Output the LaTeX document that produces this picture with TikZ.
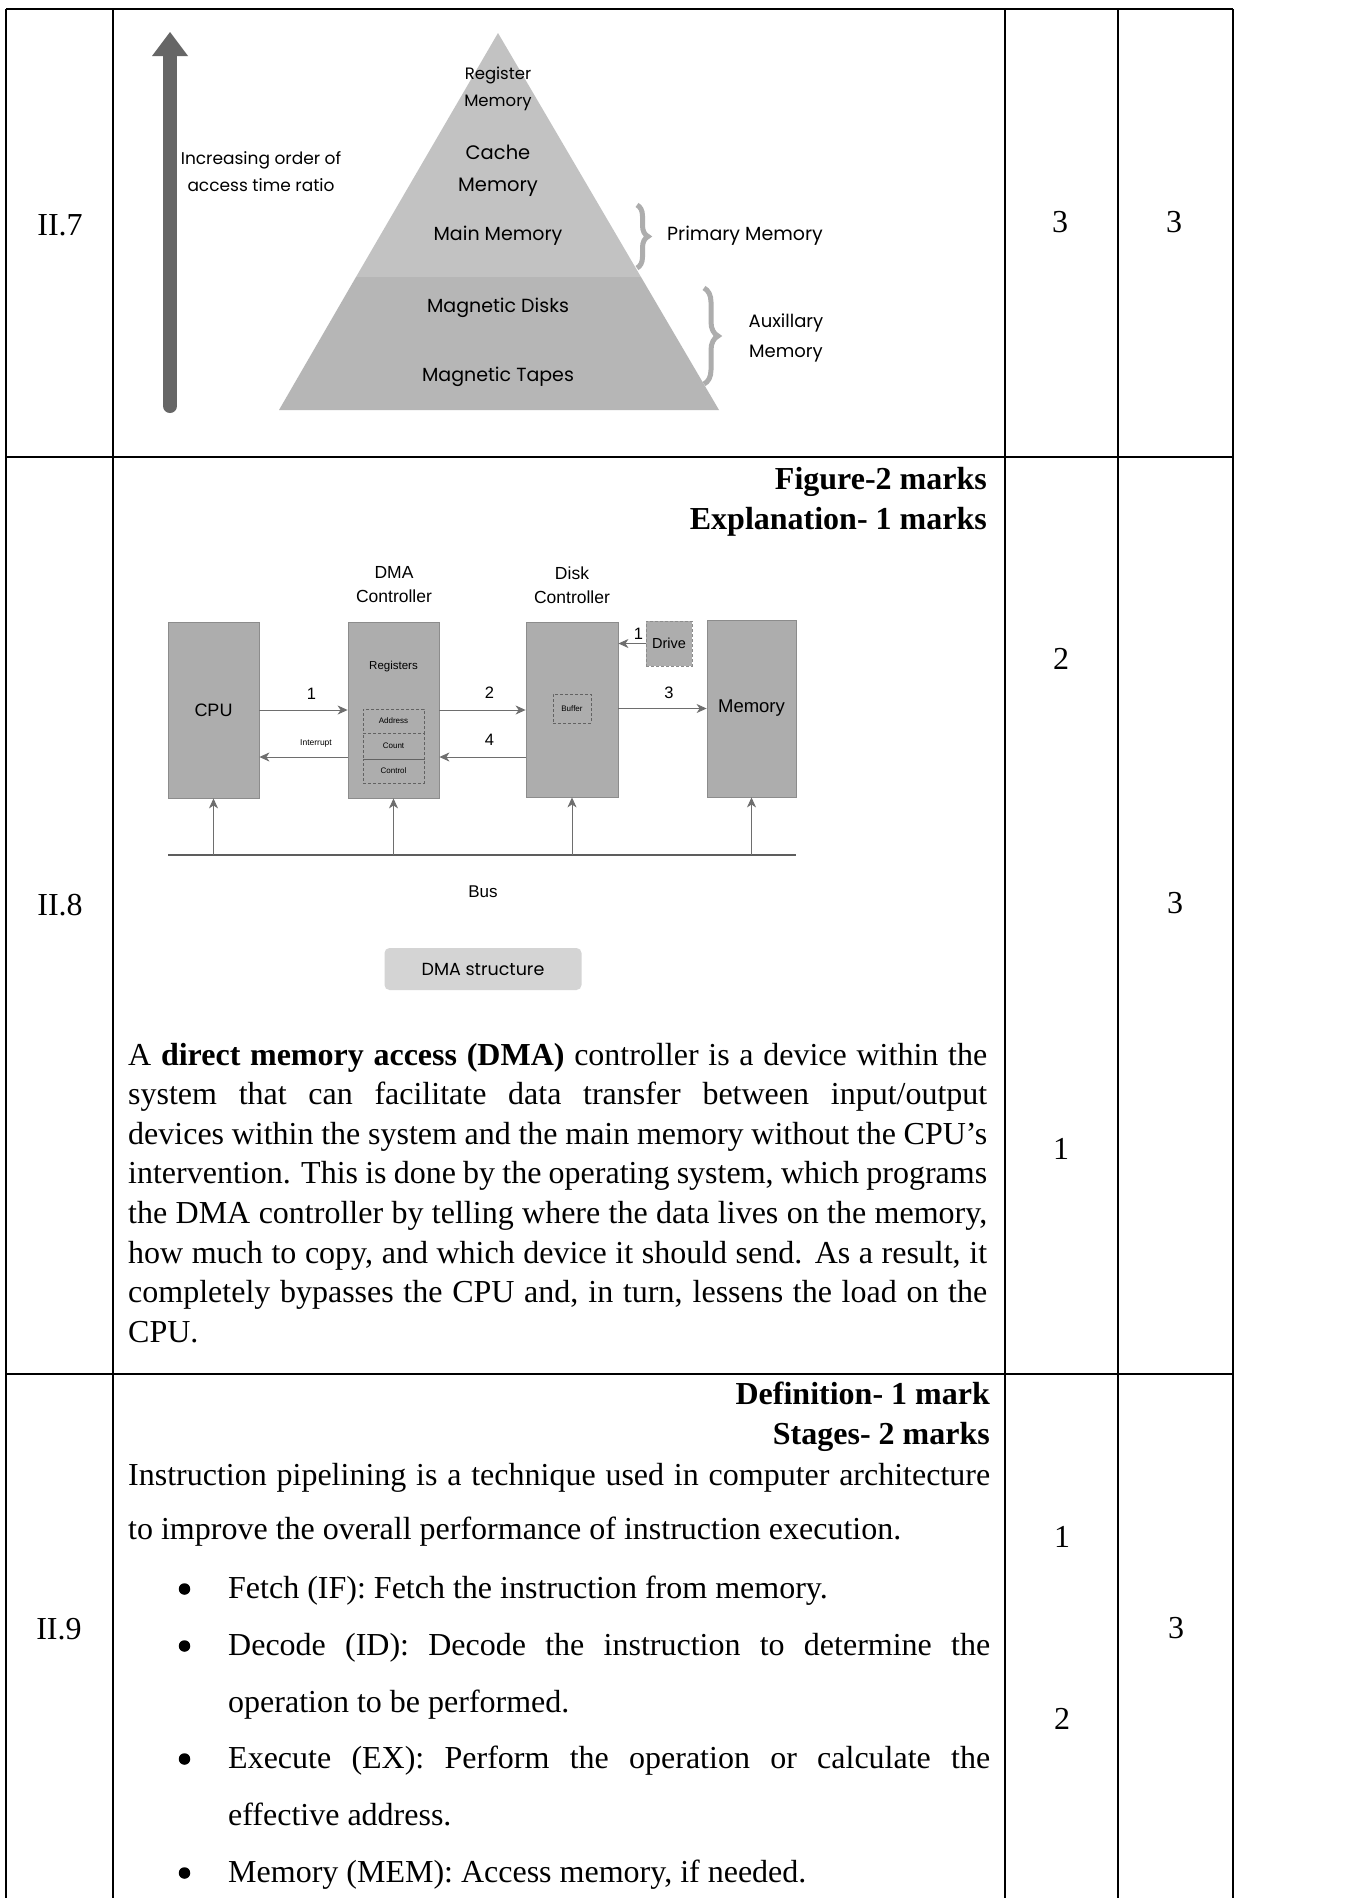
\documentclass[tikz,border=0pt]{standalone}
\usepackage{fontspec}
\setmainfont{Liberation Serif}
\newfontfamily\arialf{Liberation Sans}
\newfontfamily\geof{Poppins}
\usetikzlibrary{arrows.meta,decorations.pathreplacing,calc}
\definecolor{pyrtop}{HTML}{C2C2C2}
\definecolor{pyrbot}{HTML}{B6B6B6}
\definecolor{arrdark}{HTML}{666666}
\definecolor{bracegray}{HTML}{ADADAD}
\definecolor{boxgray}{HTML}{ADADAD}
\definecolor{boxedge}{HTML}{8C8C8C}
\definecolor{linegray}{HTML}{6E6E6E}
\definecolor{capgray}{HTML}{D4D4D4}
\tikzset{
 tbl/.style={line width=1.6pt, draw=black},
 tnum/.style={font=\fontsize{32}{38}\selectfont, inner sep=0pt},
 bodyl/.style={font=\fontsize{32}{38}\selectfont, inner sep=0pt, anchor=base west},
 bullt/.style={circle, fill=black, minimum size=11.5pt, inner sep=0pt},
 bhead/.style={font=\bfseries\fontsize{32}{38}\selectfont, inner sep=0pt, anchor=base east},
 pyr/.style={font=\geof\fontsize{19}{23}\selectfont, inner sep=0pt, align=center},
 dbox/.style={draw=boxedge, fill=boxgray, line width=0.8pt, inner sep=0pt},
 dlab/.style={font=\arialf\fontsize{17.5}{24}\selectfont, inner sep=0pt, align=center},
 rbox/.style={draw=boxedge!70!black, line width=0.7pt, densely dashed, inner sep=0pt, minimum width=61pt, font=\arialf\fontsize{8}{9}\selectfont},
 digit/.style={font=\arialf\fontsize{16.5}{18}\selectfont, inner sep=0pt},
 arr/.style={draw=linegray, line width=1pt, -{Stealth[length=10pt,width=9pt,inset=3pt]}},
 brc/.style={draw=bracegray, line width=5pt, decorate},
}
\begin{document}
\begin{tikzpicture}[x=1pt,y=-1pt]
\useasboundingbox (0,0) rectangle (1360,1898);
\fill[white] (0,0) rectangle (1360,1898);

% ---------- table rules ----------
\draw[tbl] (6,9) -- (1233,9);
\draw[tbl] (6,457) -- (1233,457);
\draw[tbl] (6,1374) -- (1233,1374);
\foreach \xx in {6,113,1005,1118,1233} { \draw[tbl] (\xx,9) -- (\xx,1898); }

% ---------- II.7 ----------
\node[tnum] (r7) at (60,225) {II.7};
\node[tnum] (r7a) at (1060,222) {3};
\node[tnum] (r7b) at (1174,222) {3};

% access-time arrow
\draw[arrdark, line width=14pt, line cap=round] (170,406) -- (170,54);
\fill[arrdark] (152,56) -- (170,32) -- (188,56) -- cycle;

% pyramid
\fill[pyrtop] (498,33) -- (356,277) -- (641,277) -- cycle;
\fill[pyrbot] (356,277) -- (279,410) -- (719,410) -- (641,277) -- cycle;

\node[pyr, font=\geof\fontsize{16.5}{27}\selectfont] (reg) at (498,89) {Register\\Memory};
\node[pyr, font=\geof\fontsize{19.5}{32}\selectfont] (cache) at (498,171) {Cache\\Memory};
\node[pyr] (mainm) at (498,236) {Main Memory};
\node[pyr] (disks) at (498,308) {Magnetic Disks};
\node[pyr] (tapes) at (498,377) {Magnetic Tapes};
\node[pyr, font=\geof\fontsize{17}{27}\selectfont] (incr) at (261,172) {Increasing order of\\access time ratio};

\draw[brc, decoration={brace, amplitude=11pt}] (637,205) -- (637,268);
\draw[brc, decoration={brace, amplitude=14pt}] (704,288) -- (704,384);
\node[pyr, anchor=west] (prim) at (667,236) {Primary Memory};
\node[pyr, font=\geof\fontsize{18}{30}\selectfont] (aux) at (786,338) {Auxillary\\Memory};

% ---------- II.8 ----------
\node[tnum] (r8) at (60,905) {II.8};
\node[tnum] (r8a) at (1061,659) {2};
\node[tnum] (r8b) at (1175,903) {3};
\node[tnum] (r8c) at (1061,1149) {1};

\node[bhead] (figh) at (987,489) {Figure-2 marks};
\node[bhead] (exph) at (987,529) {Explanation- 1 marks};

% DMA diagram
\node[dlab] (dmal) at (394,585) {DMA\\Controller};
\node[dlab] (diskl) at (572,585) {Disk\\Controller};

\node[dbox, dlab, font=\arialf\fontsize{18}{20}\selectfont, minimum width=91pt, minimum height=176pt] (cpu) at (213.5,710) {CPU};
\node[dbox, minimum width=91pt, minimum height=176pt] (dma) at (393.5,710) {};
\node[dbox, minimum width=92pt, minimum height=175pt] (disk) at (572,709.5) {};
\node[dbox, dlab, font=\arialf\fontsize{18.5}{20}\selectfont, minimum width=89pt, minimum height=177pt] (mem) at (751.5,708.5) {Memory};
\node[dbox, densely dashed, minimum width=46pt, minimum height=45pt, font=\arialf\fontsize{14.5}{16}\selectfont] (drive) at (669,643.5) {Drive};

\node[font=\arialf\fontsize{11.5}{13}\selectfont, inner sep=0pt] (regs) at (393.5,667) {Registers};
\node[rbox, minimum height=24pt] (addr) at (393.5,721) {Address};
\node[rbox, minimum height=26pt] (cnt) at (393.5,746) {Count};
\node[rbox, minimum height=24pt] (ctl) at (393.5,771) {Control};
\node[rbox, minimum width=38pt, minimum height=29pt] (buf) at (572,708.5) {Buffer};

\draw[arr] (cpu.east) -- (dma.west);
\draw[arr] (dma.east) -- (disk.west |- dma.east);
\draw[arr] (disk.east |- mem.west) -- (mem.west);
\draw[arr] ($(disk.west)+(0,47.5)$) -- ($(dma.east)+(0,47)$);
\draw[arr] ($(dma.west)+(0,47)$) -- ($(cpu.east)+(0,47)$);
\draw[arr] (drive.west) -- (disk.east |- drive.west);

\node[digit] (l1) at (311.5,694) {1};
\node[digit] (l2) at (489.5,693) {2};
\node[digit] (l3) at (669,693) {3};
\node[digit] (l4) at (489.5,740) {4};
\node[digit] (l1b) at (638.5,634) {1};
\node[font=\arialf\fontsize{8.5}{10}\selectfont, inner sep=0pt] (intr) at (316,743) {Interrupt};

\coordinate (busL) at (168,855);
\coordinate (busR) at (796,855);
\draw[draw=linegray!85!black, line width=1.4pt] (busL) -- (busR);
\draw[arr] (cpu.south |- busL) -- (cpu.south);
\draw[arr] (dma.south |- busL) -- (dma.south);
\draw[arr] (disk.south |- busL) -- (disk.south);
\draw[arr] (mem.south |- busL) -- (mem.south);

\node[dlab, font=\arialf\fontsize{17}{20}\selectfont] (bus) at (483,892) {Bus};
\node[fill=capgray, rounded corners=5pt, minimum width=197pt, minimum height=42pt, inner sep=0pt, font=\geof\fontsize{17.5}{20}\selectfont] (cap) at (483,969) {DMA structure};

% explanation paragraph
\node[bodyl] (p1) at (128,1065) {\makebox[859pt][s]{A \textbf{direct memory access (DMA)} controller is a device within the}};
\node[bodyl] (p2) at (128,1104.6) {\makebox[859pt][s]{system that can facilitate data transfer between input/output}};
\node[bodyl] (p3) at (128,1144.2) {\makebox[859pt][s]{devices within the system and the main memory without the CPU's}};
\node[bodyl] (p4) at (128,1183.8) {\makebox[859pt][s]{intervention. This is done by the operating system, which programs}};
\node[bodyl] (p5) at (128,1223.4) {\makebox[859pt][s]{the DMA controller by telling where the data lives on the memory,}};
\node[bodyl] (p6) at (128,1263) {\makebox[859pt][s]{how much to copy, and which device it should send. As a result, it}};
\node[bodyl] (p7) at (128,1302.6) {\makebox[859pt][s]{completely bypasses the CPU and, in turn, lessens the load on the}};
\node[bodyl] (p8) at (128,1342.2) {CPU.};

% ---------- II.9 ----------
\node[tnum] (r9) at (59,1629) {II.9};
\node[tnum] (r9a) at (1062,1537) {1};
\node[tnum] (r9b) at (1062,1719) {2};
\node[tnum] (r9c) at (1176,1628) {3};

\node[bhead] (defh) at (990,1404) {Definition- 1 mark};
\node[bhead] (stgh) at (990,1444) {Stages- 2 marks};
\node[bodyl] (q1) at (128,1485) {\makebox[862pt][s]{Instruction pipelining is a technique used in computer architecture}};
\node[bodyl] (q2) at (128,1539) {to improve the overall performance of instruction execution.};

\node[bullt] (b1) at (184.5,1589) {};
\node[bullt] (b2) at (184.5,1646) {};
\node[bullt] (b3) at (184.5,1759) {};
\node[bullt] (b4) at (184.5,1873) {};
\node[bodyl] (f1) at (228,1598) {Fetch (IF): Fetch the instruction from memory.};
\node[bodyl] (f2) at (228,1655) {\makebox[762pt][s]{Decode (ID): Decode the instruction to determine the}};
\node[bodyl] (f3) at (228,1712) {operation to be performed.};
\node[bodyl] (f4) at (228,1768) {\makebox[762pt][s]{Execute (EX): Perform the operation or calculate the}};
\node[bodyl] (f5) at (228,1825) {effective address.};
\node[bodyl] (f6) at (228,1882) {Memory (MEM): Access memory, if needed.};
\end{tikzpicture}
\end{document}
